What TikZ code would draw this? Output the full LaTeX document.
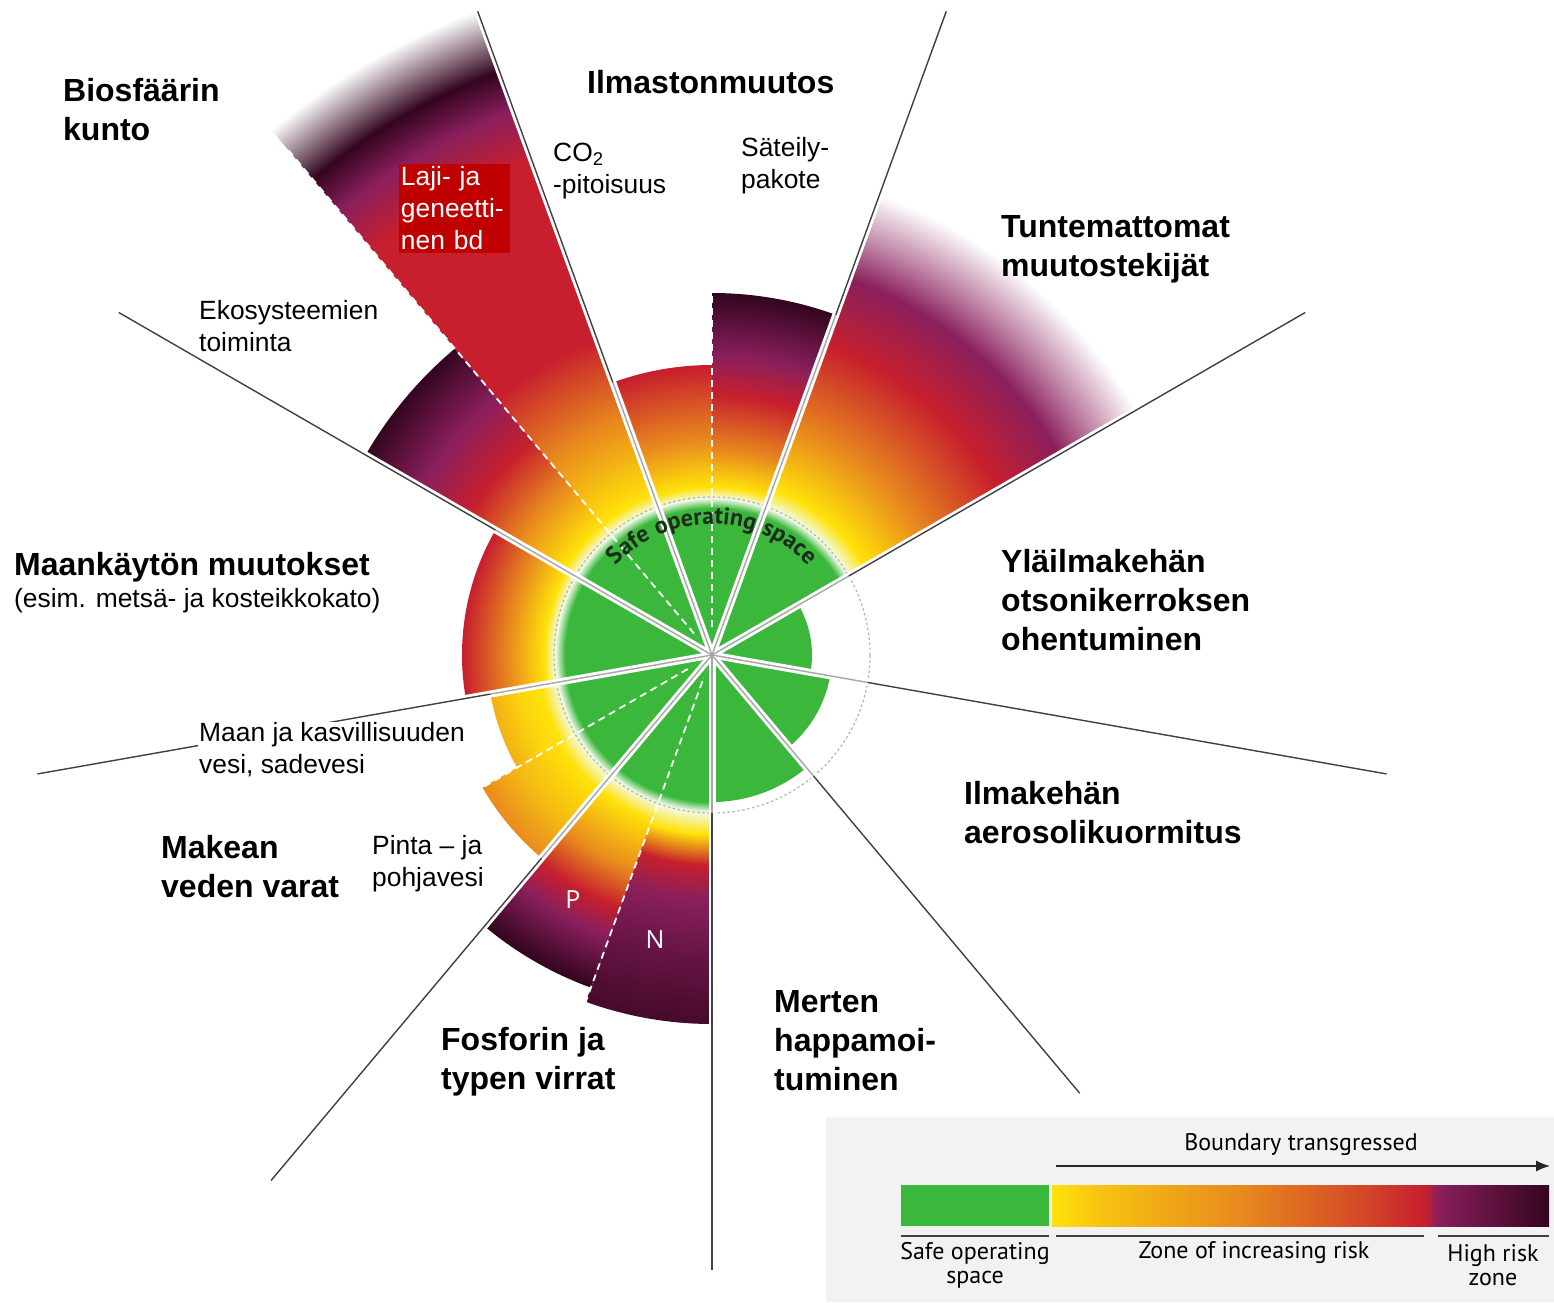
\documentclass[tikz,border=0pt]{standalone}
\usepackage{fontspec}
\setmainfont{Liberation Sans}
\newfontfamily\sopfont{Open Sans}
\newfontfamily\legendfont{PT Sans}
\newfontfamily\arcfont[LetterSpace=4]{PT Sans}
\usetikzlibrary{arrows.meta,decorations.text}

\definecolor{sgreen}{HTML}{3BB83C}
\definecolor{sglow}{HTML}{F2FAEA}
\definecolor{syellow}{HTML}{FFE20A}
\definecolor{sorange}{HTML}{E8891E}
\definecolor{sred}{HTML}{C71F2D}
\definecolor{spurple}{HTML}{8A1F5C}
\definecolor{sdark}{HTML}{33051F}
\definecolor{labelred}{HTML}{C00000}
\definecolor{legendgray}{HTML}{F2F2F2}
\definecolor{soptext}{HTML}{1C2B1C}

% radial scales, 25bp = 700 units
\pgfdeclareradialshading{co2sh}{\pgfpoint{0bp}{0bp}}{color(0bp)=(sgreen); color(5.25bp)=(sgreen); color(5.6bp)=(sglow); color(6bp)=(syellow); color(7.7bp)=(sorange); color(10.3bp)=(sred); color(50bp)=(sred)}
\pgfdeclareradialshading{forcingsh}{\pgfpoint{0bp}{0bp}}{color(0bp)=(sgreen); color(5.25bp)=(sgreen); color(5.6bp)=(sglow); color(6bp)=(syellow); color(7.3bp)=(sorange); color(9.3bp)=(sred); color(10.7bp)=(spurple); color(12.9bp)=(sdark); color(50bp)=(sdark)}
\pgfdeclareradialshading{novelsh}{\pgfpoint{0bp}{0bp}}{color(0bp)=(sgreen); color(5.25bp)=(sgreen); color(5.6bp)=(sglow); color(6.3bp)=(syellow); color(8.6bp)=(sorange); color(11.8bp)=(sred); color(14.3bp)=(spurple); color(15.7bp)=(spurple!55!white); color(17.5bp)=(white); color(50bp)=(white)}
\pgfdeclareradialshading{landsh}{\pgfpoint{0bp}{0bp}}{color(0bp)=(sgreen); color(5.25bp)=(sgreen); color(5.6bp)=(sglow); color(6bp)=(syellow); color(7.3bp)=(sorange); color(8.9bp)=(sred); color(50bp)=(sred)}
\pgfdeclareradialshading{greenwsh}{\pgfpoint{0bp}{0bp}}{color(0bp)=(sgreen); color(5.25bp)=(sgreen); color(5.6bp)=(sglow); color(6.2bp)=(syellow); color(7bp)=(syellow!85!sorange); color(8bp)=(sorange!55!syellow); color(50bp)=(sorange!55!syellow)}
\pgfdeclareradialshading{bluewsh}{\pgfpoint{0bp}{0bp}}{color(0bp)=(sgreen); color(5.25bp)=(sgreen); color(5.6bp)=(sglow); color(6.3bp)=(syellow); color(8bp)=(sorange!45!syellow); color(9.5bp)=(sorange); color(50bp)=(sorange)}
\pgfdeclareradialshading{phossh}{\pgfpoint{0bp}{0bp}}{color(0bp)=(sgreen); color(5.25bp)=(sgreen); color(5.6bp)=(sglow); color(6.25bp)=(syellow); color(8.2bp)=(sorange); color(9.6bp)=(sred); color(10.7bp)=(spurple); color(12.6bp)=(sdark); color(50bp)=(sdark)}
\pgfdeclareradialshading{nitrosh}{\pgfpoint{0bp}{0bp}}{color(0bp)=(sgreen); color(5.25bp)=(sgreen); color(5.6bp)=(sglow); color(6.4bp)=(syellow); color(7.5bp)=(sred); color(8.75bp)=(spurple); color(10.7bp)=(spurple!60!sdark); color(13.2bp)=(sdark!80!spurple); color(50bp)=(sdark)}
\pgfdeclareradialshading{funcsh}{\pgfpoint{0bp}{0bp}}{color(0bp)=(sgreen); color(5.25bp)=(sgreen); color(5.6bp)=(sglow); color(6.1bp)=(syellow); color(8bp)=(sorange); color(10bp)=(sred); color(12bp)=(spurple); color(14.3bp)=(sdark); color(50bp)=(sdark)}
\pgfdeclareradialshading{genesh}{\pgfpoint{0bp}{0bp}}{color(0bp)=(sgreen); color(5.25bp)=(sgreen); color(5.6bp)=(sglow); color(6.1bp)=(syellow); color(9bp)=(sorange); color(12bp)=(sred); color(18.8bp)=(sred); color(20.7bp)=(spurple); color(22.2bp)=(sdark); color(24.5bp)=(white); color(50bp)=(white)}
\pgfdeclarehorizontalshading{riskbar}{100bp}{color(0bp)=(syellow); color(25bp)=(syellow); color(30bp)=(syellow!65!sorange); color(44bp)=(sorange); color(55bp)=(sorange!45!sred); color(62.5bp)=(sred); color(63.8bp)=(spurple); color(75bp)=(sdark); color(100bp)=(sdark)}

\newcommand\riskwedge[4]{%
  \begin{scope}
    \clip (0,0) -- (#1:#3) arc[start angle=#1, end angle=#2, radius=#3] -- cycle;
    \shade[shading=#4] (-700,-700) rectangle (700,700);
  \end{scope}}

\tikzset{
  boldlabel/.style={anchor=west, align=left, inner sep=0pt, font=\fontsize{32}{39}\selectfont\bfseries},
  plainlabel/.style={anchor=west, align=left, inner sep=0pt, font=\fontsize{26.4}{32}\selectfont},
  genebox/.style={fill=labelred, text=white, align=left, text width=107pt, inner xsep=2pt, inner ysep=3pt, font=\fontsize{26.4}{32}\selectfont},
  flowletter/.style={text=white, inner sep=0pt, font=\sopfont\fontsize{25}{25}\selectfont},
  legendtext/.style={align=center, inner sep=0pt, font=\legendfont\fontsize{24}{24}\selectfont},
  spokehalo/.style={white, line width=7pt},
  spokein/.style={black!35, line width=1.4pt},
  spokeout/.style={black!75, line width=1.4pt},
  subline/.style={white, line width=1.8pt, dash pattern=on 7pt off 5pt},
}

\begin{document}
\begin{tikzpicture}[x=1pt, y=1pt]
\useasboundingbox (-712,-647) rectangle (842,655);

% transgressed boundaries
\riskwedge{90}{110}{290}{co2sh}
\riskwedge{70}{90}{362}{forcingsh}
\riskwedge{30}{70}{560}{novelsh}
\riskwedge{150}{190}{250}{landsh}
\riskwedge{190}{210}{225}{greenwsh}
\riskwedge{210}{230}{265}{bluewsh}
\riskwedge{230}{250}{354}{phossh}
\riskwedge{250}{270}{369}{nitrosh}
\riskwedge{130}{150}{400}{funcsh}
\riskwedge{110}{130}{700}{genesh}

% boundaries inside the safe space
\fill[sgreen] (0,0) -- (-10:100) arc[start angle=-10, end angle=30, radius=100] -- cycle;
\fill[sgreen] (0,0) -- (-50:120) arc[start angle=-50, end angle=-10, radius=120] -- cycle;
\fill[sgreen] (0,0) -- (-90:147) arc[start angle=-90, end angle=-50, radius=147] -- cycle;

\draw[black!30, line width=1.2pt, dash pattern=on 2.5pt off 2.5pt] (0,0) circle[radius=158];

% spokes
\foreach \ang/\len in {110/685, 70/685, 30/685, -10/685, -50/572, -90/615, 230/686, 190/685, 150/685}
  \draw[spokehalo] (0,0) -- (\ang:\len);
\foreach \ang/\mid/\len in {110/290/685, 70/362/685, 30/158/685, -10/158/685, -50/158/572, -90/158/615, 230/265/686, 190/225/685, 150/250/685}{
  \draw[spokein] (0,0) -- (\ang:\mid);
  \draw[spokeout] (\ang:\mid) -- (\ang:\len);
}
\foreach \ang/\len in {90/362, 130/662, 210/265, 250/369}
  \draw[subline] (\ang:28) -- (\ang:\len);

\path[decorate, decoration={text along path, text align=center,
  text={|\arcfont\bfseries\fontsize{24}{24}\selectfont\color{soptext}|Safe operating space}}]
  (145:131) arc[start angle=145, end angle=35, radius=131];

% labels
\node[boldlabel] (biosphere) at (-649,545) {Biosfäärin\\kunto};
\node[boldlabel] (climate) at (-125,573) {Ilmastonmuutos};
\node[plainlabel] (co2) at (-159,484) {CO\textsubscript{2}\\-pitoisuus};
\node[plainlabel] (forcing) at (29,489) {Säteily-\\pakote};
\node[genebox] (genetic) at (-257.5,446.5) {Laji- ja\\geneetti-\\nen bd};
\node[boldlabel] (novel) at (289,406) {Tuntemattomat\\muutostekijät};
\node[plainlabel] (ecofunc) at (-513,329) {Ekosysteemien\\toiminta};
\node[boldlabel] (landuse) at (-698,88) {Maankäytön muutokset};
\node[plainlabel] (landnote) at (-698,54) {(esim. metsä- ja kosteikkokato)};
\node[boldlabel] (ozone) at (289,55) {Yläilmakehän\\otsonikerroksen\\ohentuminen};
\node[plainlabel, fill=white, inner sep=1pt] (greenwater) at (-514,-95) {Maan ja kasvillisuuden\\vesi, sadevesi};
\node[boldlabel] (aerosol) at (252,-158) {Ilmakehän\\aerosolikuormitus};
\node[boldlabel] (freshwater) at (-551,-212) {Makean\\veden varat};
\node[plainlabel] (bluewater) at (-340,-209) {Pinta -- ja\\pohjavesi};
\node[flowletter] (phos) at (-139,-245) {P};
\node[flowletter] (nitro) at (-57,-285) {N};
\node[boldlabel] (ocean) at (62,-386) {Merten\\happamoi-\\tuminen};
\node[boldlabel] (flows) at (-271,-407) {Fosforin ja\\typen virrat};

% legend
\fill[legendgray] (114,-462) rectangle (842,-647);
\node[legendtext] (transgressed) at (589,-490) {Boundary transgressed};
\coordinate (arrowstart) at (344,-511);
\coordinate (arrowend) at (838,-511);
\draw[-{Latex[length=14pt,width=11pt]}, line width=1.4pt, black!85] (arrowstart) -- (arrowend);
\fill[sgreen] (189,-530) rectangle (337,-571);
\shade[shading=riskbar] (340,-530) rectangle (837,-571);
\draw[line width=1.6pt, black!75] (189,-581) -- (337,-581) (344,-581) -- (712,-581) (726,-581) -- (837,-581);
\node[legendtext] (safelab) at (263,-610) {Safe operating\\space};
\node[legendtext] (zonelab) at (542,-598) {Zone of increasing risk};
\node[legendtext] (highlab) at (781,-610) {High risk\\zone};

\end{tikzpicture}
\end{document}
